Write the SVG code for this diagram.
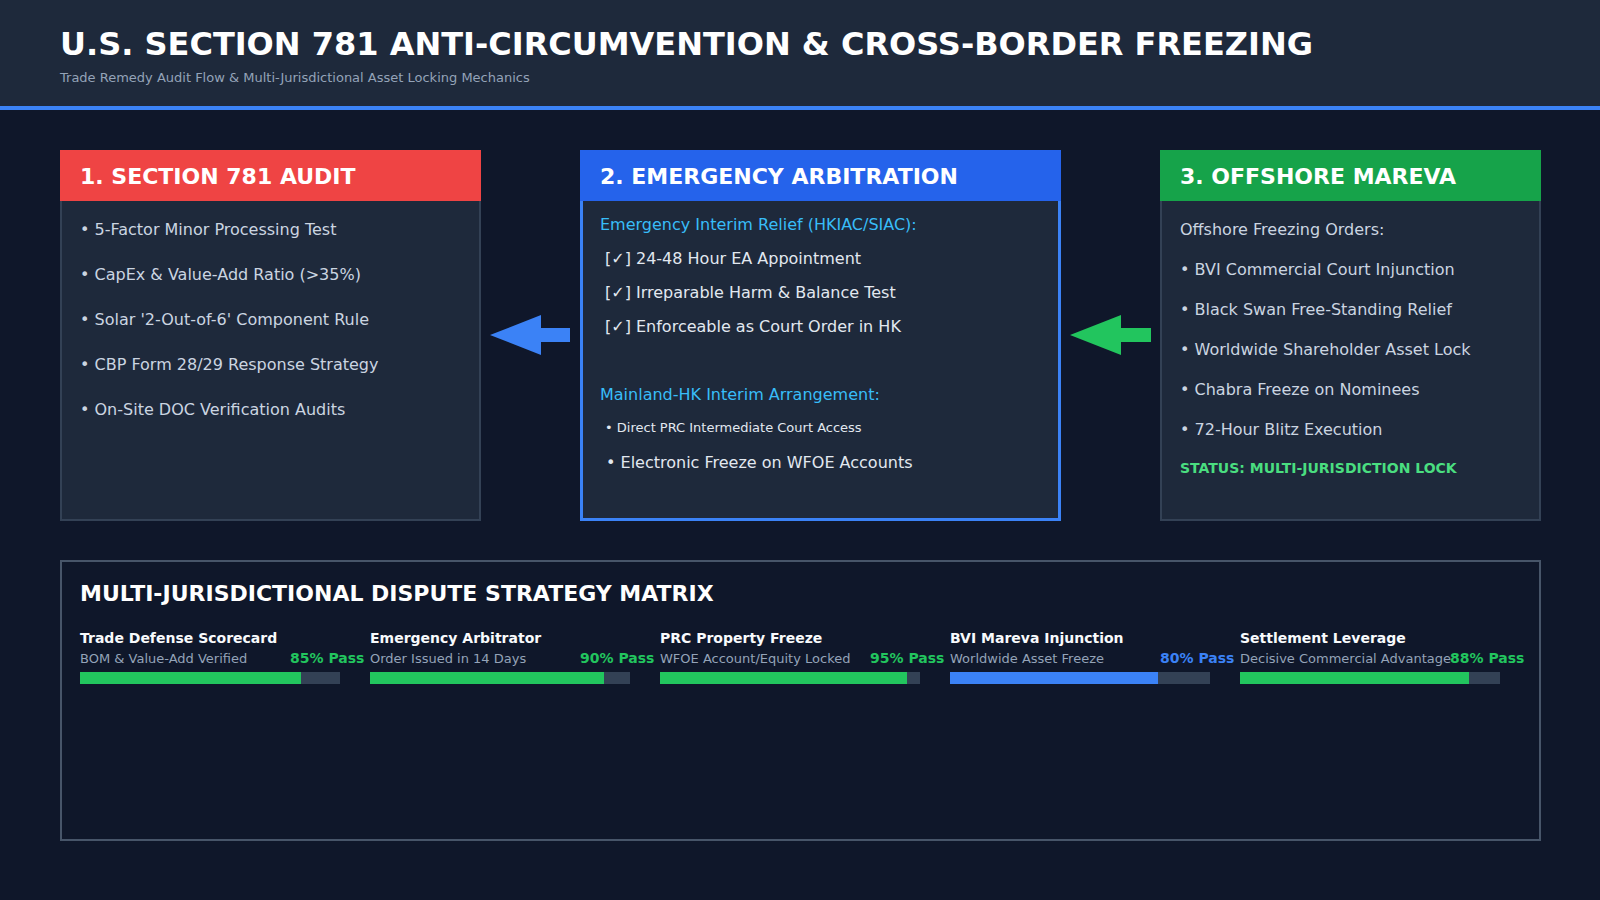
<svg xmlns="http://www.w3.org/2000/svg" width="1600" height="900" viewBox="0 0 1600 900">
<style>
text{font-family:"DejaVu Sans","Liberation Sans",sans-serif}
.b{font-weight:bold}
.hd{font-size:22px;font-weight:bold;fill:#ffffff}
.item{font-size:16px;fill:#cbd5e1}
.chk{font-size:16px;fill:#e2e8f0}
.sub{font-size:16px;fill:#38bdf8}
.body{fill:#1e293b;stroke:#334155;stroke-width:2}
.ml{font-size:14px;font-weight:bold;fill:#f8fafc}
.ms{font-size:13px;fill:#94a3b8}
.mp{font-size:14px;font-weight:bold}
.track{fill:#334155}
</style>
<rect x="0" y="0" width="1600" height="900" fill="#0f172a"/>
<g id="header">
<rect x="0" y="0" width="1600" height="106" fill="#1e293b"/>
<rect x="0" y="106" width="1600" height="4" fill="#3b82f6"/>
<text x="60" y="55" class="b" font-size="32" fill="#ffffff">U.S. SECTION 781 ANTI-CIRCUMVENTION &amp; CROSS-BORDER FREEZING</text>
<text x="60" y="82" font-size="13" fill="#94a3b8">Trade Remedy Audit Flow &amp; Multi-Jurisdictional Asset Locking Mechanics</text>
</g>
<g id="connectors">
<polygon points="490,335 541,315 541,328 570,328 570,342 541,342 541,355" fill="#3b82f6"/>
<polygon points="1070,335 1121,315 1121,328 1151,328 1151,342 1121,342 1121,355" fill="#22c55e"/>
</g>
<g id="node-audit">
<rect class="body" x="61" y="151" width="419" height="369"/>
<rect x="60" y="150" width="421" height="51" fill="#ef4444"/>
<text x="80" y="184" class="hd">1. SECTION 781 AUDIT</text>
<text x="80" y="235" class="item">• 5-Factor Minor Processing Test</text>
<text x="80" y="280" class="item">• CapEx &amp; Value-Add Ratio (&gt;35%)</text>
<text x="80" y="325" class="item">• Solar '2-Out-of-6' Component Rule</text>
<text x="80" y="370" class="item">• CBP Form 28/29 Response Strategy</text>
<text x="80" y="415" class="item">• On-Site DOC Verification Audits</text>
</g>
<g id="node-arbitration">
<rect x="581.5" y="151.5" width="478" height="368" fill="#1e293b" stroke="#3b82f6" stroke-width="3"/>
<rect x="580" y="150" width="481" height="51" fill="#2563eb"/>
<text x="600" y="184" class="hd">2. EMERGENCY ARBITRATION</text>
<text x="600" y="230" class="sub">Emergency Interim Relief (HKIAC/SIAC):</text>
<text x="605" y="264" class="chk">[✓] 24-48 Hour EA Appointment</text>
<text x="605" y="298" class="chk">[✓] Irreparable Harm &amp; Balance Test</text>
<text x="605" y="332" class="chk">[✓] Enforceable as Court Order in HK</text>
<text x="600" y="400" class="sub">Mainland-HK Interim Arrangement:</text>
<text x="605" y="432" font-size="13" fill="#e2e8f0">• Direct PRC Intermediate Court Access</text>
<text x="606" y="468" class="chk">• Electronic Freeze on WFOE Accounts</text>
</g>
<g id="node-mareva">
<rect class="body" x="1161" y="151" width="379" height="369"/>
<rect x="1160" y="150" width="381" height="51" fill="#16a34a"/>
<text x="1180" y="184" class="hd">3. OFFSHORE MAREVA</text>
<text x="1180" y="235" class="item">Offshore Freezing Orders:</text>
<text x="1180" y="275" class="item">• BVI Commercial Court Injunction</text>
<text x="1180" y="315" class="item">• Black Swan Free-Standing Relief</text>
<text x="1180" y="355" class="item">• Worldwide Shareholder Asset Lock</text>
<text x="1180" y="395" class="item">• Chabra Freeze on Nominees</text>
<text x="1180" y="435" class="item">• 72-Hour Blitz Execution</text>
<text x="1180" y="473" class="b" font-size="14" fill="#4ade80">STATUS: MULTI-JURISDICTION LOCK</text>
</g>
<g id="node-matrix">
<rect x="61" y="561" width="1479" height="279" fill="#0f172a" stroke="#475569" stroke-width="2"/>
<text x="80" y="601" class="hd">MULTI-JURISDICTIONAL DISPUTE STRATEGY MATRIX</text>
<g id="metric-1">
<text x="80" y="643" class="ml">Trade Defense Scorecard</text>
<text x="80" y="663" class="ms">BOM &amp; Value-Add Verified</text>
<text x="290" y="663" class="mp" fill="#22c55e">85% Pass</text>
<rect class="track" x="80" y="672" width="260" height="12"/>
<rect x="80" y="672" width="221" height="12" fill="#22c55e"/>
</g>
<g id="metric-2">
<text x="370" y="643" class="ml">Emergency Arbitrator</text>
<text x="370" y="663" class="ms">Order Issued in 14 Days</text>
<text x="580" y="663" class="mp" fill="#22c55e">90% Pass</text>
<rect class="track" x="370" y="672" width="260" height="12"/>
<rect x="370" y="672" width="234" height="12" fill="#22c55e"/>
</g>
<g id="metric-3">
<text x="660" y="643" class="ml">PRC Property Freeze</text>
<text x="660" y="663" class="ms">WFOE Account/Equity Locked</text>
<text x="870" y="663" class="mp" fill="#22c55e">95% Pass</text>
<rect class="track" x="660" y="672" width="260" height="12"/>
<rect x="660" y="672" width="247" height="12" fill="#22c55e"/>
</g>
<g id="metric-4">
<text x="950" y="643" class="ml">BVI Mareva Injunction</text>
<text x="950" y="663" class="ms">Worldwide Asset Freeze</text>
<text x="1160" y="663" class="mp" fill="#3b82f6">80% Pass</text>
<rect class="track" x="950" y="672" width="260" height="12"/>
<rect x="950" y="672" width="208" height="12" fill="#3b82f6"/>
</g>
<g id="metric-5">
<text x="1240" y="643" class="ml">Settlement Leverage</text>
<text x="1240" y="663" class="ms">Decisive Commercial Advantage</text>
<text x="1450" y="663" class="mp" fill="#22c55e">88% Pass</text>
<rect class="track" x="1240" y="672" width="260" height="12"/>
<rect x="1240" y="672" width="229" height="12" fill="#22c55e"/>
</g>
</g>
</svg>
